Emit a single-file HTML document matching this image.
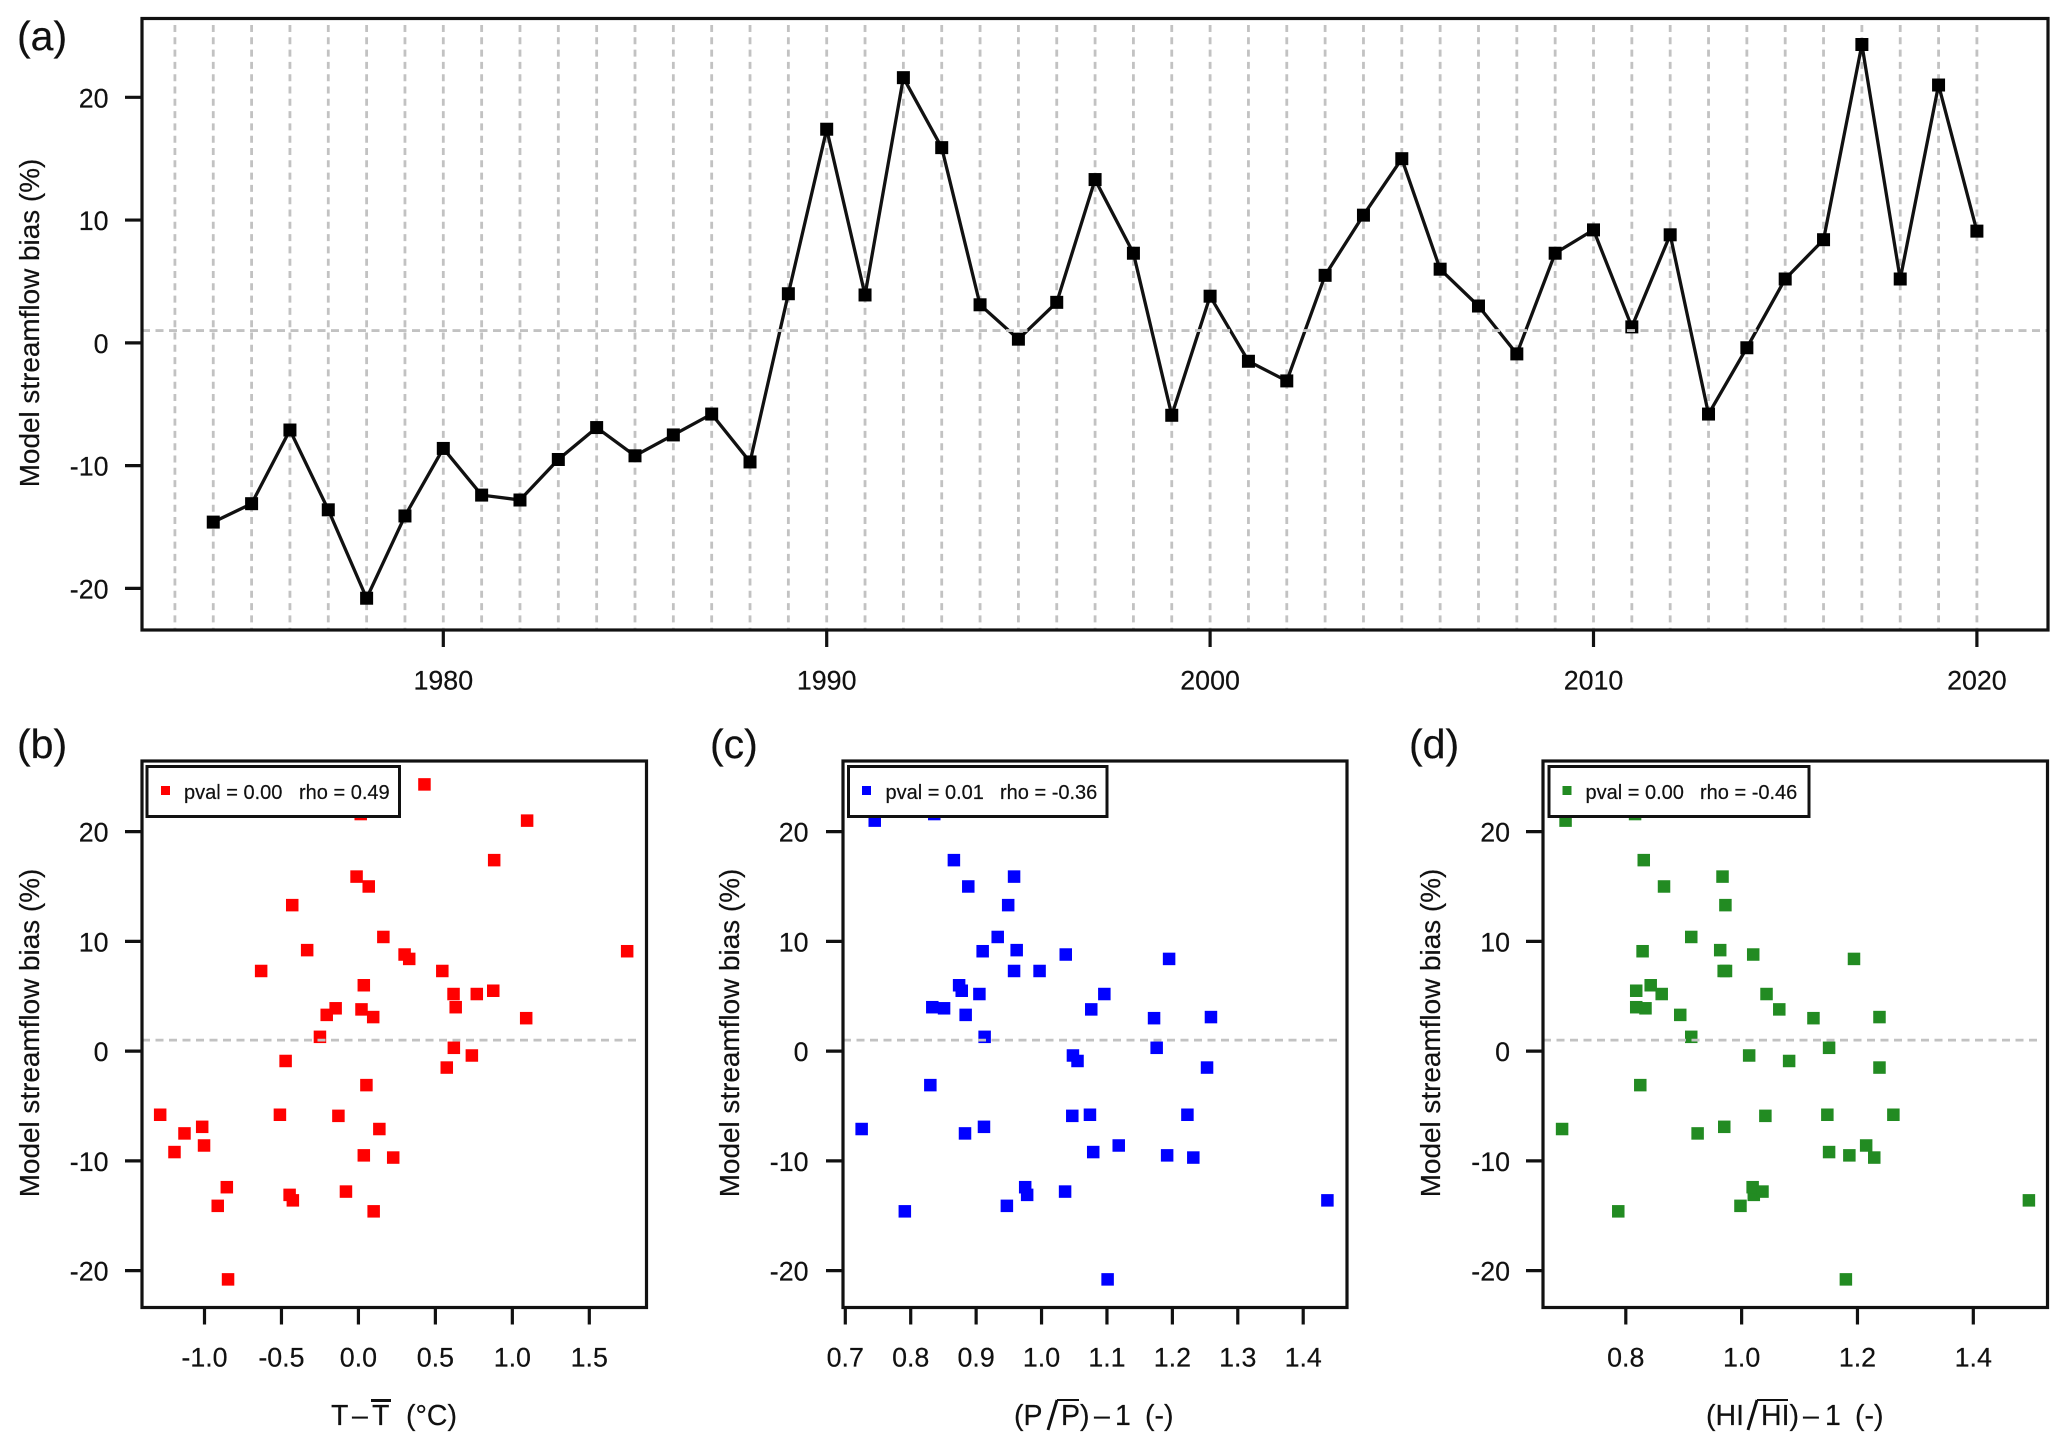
<!DOCTYPE html>
<html lang="en">
<head>
<meta charset="utf-8">
<title>Model streamflow bias</title>
<style>
html,body{margin:0;padding:0;background:#fff;}
svg{display:block;font-family:"Liberation Sans",Arial,sans-serif;fill:#111;}
text{stroke:#111;stroke-width:0.2px;}
</style>
</head>
<body>
<svg id="figure" xmlns="http://www.w3.org/2000/svg" width="2067" height="1451" viewBox="0 0 2067 1451">
  <rect x="0" y="0" width="2067" height="1451" fill="#fff"/>

  <g id="panel-a"></g>
  <g id="panel-b"></g>
  <g id="panel-c"></g>
  <g id="panel-d"></g>

  <g font-size="41">
    <text x="17" y="50">(a)</text>
    <text x="17" y="758">(b)</text>
    <text x="710" y="758">(c)</text>
    <text x="1409" y="758">(d)</text>
  </g>

  <g font-size="27.9" text-anchor="middle">
    <text transform="translate(39,323) rotate(-90)">Model streamflow bias (%)</text>
    <text transform="translate(39,1033) rotate(-90)">Model streamflow bias (%)</text>
    <text transform="translate(739,1033) rotate(-90)">Model streamflow bias (%)</text>
    <text transform="translate(1440,1033) rotate(-90)">Model streamflow bias (%)</text>
  </g>

  <g font-size="28.5">
    <text x="331" y="1425">T</text>
    <text x="352" y="1425">–</text>
    <text x="372" y="1425">T</text>
    <line x1="371" y1="1400.5" x2="391" y2="1400.5" stroke="#111" stroke-width="3"/>
    <text x="406" y="1425">(°C)</text>
  </g>
  <g font-size="28.5">
    <text x="1014" y="1425">(P</text>
    <line x1="1048" y1="1430" x2="1057" y2="1400" stroke="#111" stroke-width="3"/>
    <line x1="1057" y1="1400" x2="1079" y2="1400" stroke="#111" stroke-width="2"/>
    <text x="1061" y="1425">P)</text>
    <text x="1094" y="1425">–</text>
    <text x="1115" y="1425">1</text>
    <text x="1145" y="1425">(-)</text>
  </g>
  <g font-size="28.5">
    <text x="1706" y="1425">(HI</text>
    <line x1="1748" y1="1430" x2="1757" y2="1400" stroke="#111" stroke-width="3"/>
    <line x1="1757" y1="1400" x2="1788" y2="1400" stroke="#111" stroke-width="2"/>
    <text x="1761" y="1425">HI)</text>
    <text x="1803" y="1425">–</text>
    <text x="1825" y="1425">1</text>
    <text x="1855" y="1425">(-)</text>
  </g>

  <g font-size="20">
    <rect x="147" y="766.5" width="252.5" height="50" fill="#fff" stroke="#111" stroke-width="3"/>
    <rect x="161" y="786" width="9" height="9" fill="#ff0000"/>
    <text x="184" y="799">pval = 0.00</text>
    <text x="299" y="799">rho = 0.49</text>
  </g>
  <g font-size="20">
    <rect x="848.5" y="766.5" width="258.5" height="50" fill="#fff" stroke="#111" stroke-width="3"/>
    <rect x="862" y="786" width="9" height="9" fill="#0000ff"/>
    <text x="885.5" y="799">pval = 0.01</text>
    <text x="1000" y="799">rho = -0.36</text>
  </g>
  <g font-size="20">
    <rect x="1549" y="766.5" width="260" height="50" fill="#fff" stroke="#111" stroke-width="3"/>
    <rect x="1562.5" y="786" width="9" height="9" fill="#228b22"/>
    <text x="1585.5" y="799">pval = 0.00</text>
    <text x="1700" y="799">rho = -0.46</text>
  </g>
</svg>

<script>
const years = [1974,1975,1976,1977,1978,1979,1980,1981,1982,1983,1984,1985,1986,1987,1988,1989,1990,1991,1992,1993,1994,1995,1996,1997,1998,1999,2000,2001,2002,2003,2004,2005,2006,2007,2008,2009,2010,2011,2012,2013,2014,2015,2016,2017,2018,2019,2020];
const bias = [-14.6,-13.1,-7.1,-13.6,-20.8,-14.1,-8.6,-12.4,-12.8,-9.5,-6.9,-9.2,-7.5,-5.8,-9.7,4.0,17.4,3.9,21.6,15.9,3.1,0.3,3.3,13.3,7.3,-5.9,3.8,-1.5,-3.1,5.5,10.4,15.0,6.0,3.0,-0.9,7.3,9.2,1.3,8.8,-5.8,-0.4,5.2,8.4,24.3,5.2,21.0,9.1];
const tempAnomaly = [0.099,-0.447,0.136,-0.426,-0.847,-0.914,-1.003,-0.855,-0.081,0.035,-1.015,-1.195,-1.13,-1.288,0.226,0.632,0.882,-0.148,0.015,-0.012,0.096,0.62,-0.206,-0.43,-0.632,-0.13,0.02,0.574,0.052,0.876,0.162,0.067,0.035,1.09,-0.473,0.545,-0.333,-0.25,0.30,-0.51,0.737,0.618,0.33,0.429,0.769,1.096,1.746];
const precipRatio = [0.791,0.978,0.725,1.437,1.101,0.947,1.118,0.975,1.036,1.192,0.912,1.079,0.883,1.074,1.232,0.833,0.866,0.851,0.836,0.958,1.259,1.176,0.884,0.949,0.958,1.047,1.076,1.253,0.83,0.878,0.933,0.888,0.874,1.172,1.055,0.997,0.962,0.913,1.037,1.223,1.048,1.096,1.195,0.95,0.905,0.745,0.91];
const heatIndexRatio = [0.787,1.021,0.69,1.496,1.18,0.998,1.215,1.019,1.036,1.186,0.97,1.151,0.924,1.148,1.229,0.818,0.831,0.834,0.816,0.967,1.238,1.151,0.894,0.972,0.969,1.041,1.065,1.238,0.825,0.818,0.913,0.866,0.843,1.124,1.082,0.973,0.963,0.913,1.02,1.262,1.013,1.043,1.194,0.93,0.862,0.696,0.829];
const gridYears = [1973,1974,1975,1976,1977,1978,1979,1980,1981,1982,1983,1984,1985,1986,1987,1988,1989,1990,1991,1992,1993,1994,1995,1996,1997,1998,1999,2000,2001,2002,2003,2004,2005,2006,2007,2008,2009,2010,2011,2012,2013,2014,2015,2016,2017,2018,2019,2020];
const yTicks = [-20,-10,0,10,20];
const yearTicks = [1980,1990,2000,2010,2020];
const tempTicks = [-1.0,-0.5,0.0,0.5,1.0,1.5];
const precipTicks = [0.7,0.8,0.9,1.0,1.1,1.2,1.3,1.4];
const heatTicks = [0.8,1.0,1.2,1.4];
const referenceBias = 1;

const NS = 'http://www.w3.org/2000/svg';
const INK = '#111';
const GREY = '#c2c2c2';

function linear(d0, d1, r0, r1) {
  return function (v) { return r0 + (v - d0) * (r1 - r0) / (d1 - d0); };
}
function node(parent, tag, attrs) {
  const el = document.createElementNS(NS, tag);
  for (const k in attrs) { el.setAttribute(k, attrs[k]); }
  parent.appendChild(el);
  return el;
}
function frame(g, box) {
  const el = node(g, 'rect', {x: box.l, y: box.t, width: box.r - box.l, height: box.b - box.t, fill: 'none', stroke: INK, 'stroke-width': 3.2});
  
  
}
function hline(g, box, y, xEnd) {
  const el = node(g, 'line', {x1: box.l, x2: xEnd, y1: y(referenceBias), y2: y(referenceBias), stroke: GREY, 'stroke-width': 2.8, 'stroke-dasharray': '8 5.5'});
  
  
}
function axes(g, box, x, y, xTicks, fmtX, yLabelRight, xLabelY) {
  yTicks.forEach(function (v) {
    const t = node(g, 'line', {x1: box.l - 17, x2: box.l, y1: y(v), y2: y(v), stroke: INK, 'stroke-width': 3.2});
    
    
    const s = node(g, 'text', {x: yLabelRight, y: y(v) + 10, 'text-anchor': 'end', 'font-size': 26.8});
    
    
    s.textContent = String(v);
  });
  xTicks.forEach(function (v) {
    const t = node(g, 'line', {x1: x(v), x2: x(v), y1: box.b, y2: box.b + 17, stroke: INK, 'stroke-width': 3.2});
    
    
    const s = node(g, 'text', {x: x(v), y: xLabelY, 'text-anchor': 'middle', 'font-size': 26.8});
    
    
    s.textContent = fmtX(v);
  });
}
function square(g, cx, cy, size, color, name) {
  const el = node(g, 'rect', {x: cx - size / 2, y: cy - size / 2, width: size, height: size, fill: color});
  
  
}

/* panel (a): time series */
(function () {
  const g = document.getElementById('panel-a');
  const box = {l: 142, r: 2048, t: 18.5, b: 630};
  const x = linear(1980, 2020, 443.3, 1976.9);
  const y = linear(-20, 20, 588.4, 97.3);
  gridYears.forEach(function (yr) {
    const el = node(g, 'line', {x1: x(yr), x2: x(yr), y1: 25, y2: box.b, stroke: GREY, 'stroke-width': 2.8, 'stroke-dasharray': '7 5.3'});
    
    
  });
  const pts = years.map(function (yr, i) { return x(yr) + ',' + y(bias[i]); }).join(' ');
  const line = node(g, 'polyline', {points: pts, fill: 'none', stroke: INK, 'stroke-width': 3.3, 'stroke-linejoin': 'miter'});
  
  
  years.forEach(function (yr, i) { square(g, x(yr), y(bias[i]), 13, '#000', 'bias-point'); });
  hline(g, box, y, box.r);
  frame(g, box);
  axes(g, box, x, y, yearTicks, String, 108.5, 689.5);
})();

/* panels (b)-(d): scatter plots */
function scatter(id, box, x, xValues, xTicks, color, yLabelRight) {
  const g = document.getElementById(id);
  const y = linear(-20, 20, 1270.6, 831.6);
  xValues.forEach(function (v, i) { square(g, x(v), y(bias[i]), 12.5, color, 'scatter-point'); });
  hline(g, box, y, box.r - 6);
  frame(g, box);
  axes(g, box, x, y, xTicks, function (v) { return v.toFixed(1); }, yLabelRight, 1366.5);
}
scatter('panel-b', {l: 142, r: 646.5, t: 761, b: 1307.5}, linear(-1, 1.5, 204.5, 589.3), tempAnomaly, tempTicks, '#ff0000', 108.5);
scatter('panel-c', {l: 843, r: 1347, t: 761, b: 1307.5}, linear(0.7, 1.4, 845.3, 1303.2), precipRatio, precipTicks, '#0000ff', 808.5);
scatter('panel-d', {l: 1543, r: 2047.5, t: 761, b: 1307.5}, linear(0.8, 1.4, 1625.8, 1973.3), heatIndexRatio, heatTicks, '#228b22', 1510);
</script>
</body>
</html>
